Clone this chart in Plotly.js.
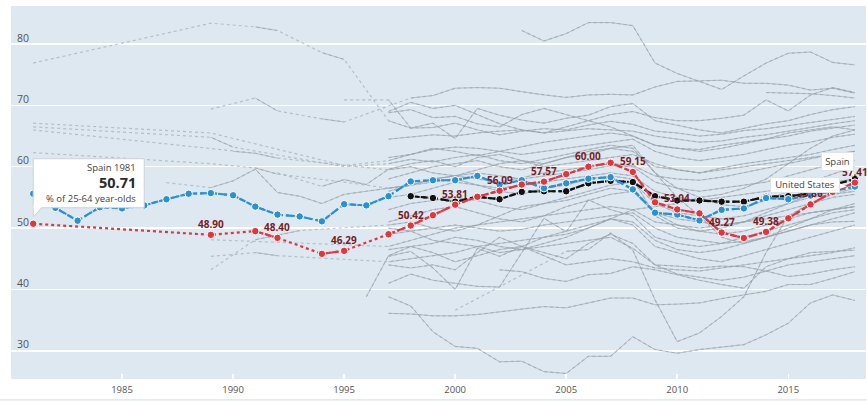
<!DOCTYPE html>
<html><head><meta charset="utf-8">
<script src="https://cdn.plot.ly/plotly-3.0.1.min.js"></script>
<style>html,body{margin:0;padding:0;background:#fff}#chart{width:867px;height:401px}</style>
</head><body><div id="chart"></div>
<script>
const _ = null;
const YEARS = [1981,1982,1983,1984,1985,1986,1987,1988,1989,1990,
  1991,1992,1993,1994,1995,1996,1997,1998,1999,2000,
  2001,2002,2003,2004,2005,2006,2007,2008,2009,2010,
  2011,2012,2013,2014,2015,2016,2017,2018];

// Highlighted series (% of 25-64 year-olds)
const spain = [50.71,_,_,_,_,_,_,_,48.90,_,
  49.50,48.40,_,45.80,46.29,_,49.00,50.42,52.10,53.81,
  55.10,56.09,57.10,57.57,58.80,60.00,60.65,59.15,54.20,53.04,
  52.40,49.27,48.38,49.38,51.60,53.86,55.90,57.41];
const unitedStates = [55.6,53.3,51.2,53.4,53.2,53.7,54.7,55.6,55.7,55.35,
  53.5,52.2,51.9,51.1,53.9,53.7,55.2,57.6,57.8,57.8,
  58.5,57.1,57.8,56.5,57.3,58.05,58.3,56.3,52.5,52.2,
  51.25,52.97,53.2,54.9,54.7,55.3,56.0,56.76];
const oecdAverage = [_,_,_,_,_,_,_,_,_,_,
  _,_,_,_,_,_,_,55.2,54.9,54.3,
  55.1,54.7,55.9,56.0,56.0,57.3,57.7,57.5,55.2,54.5,
  54.5,54.3,54.3,55.1,55.2,55.6,57.0,58.0];
const spainLabelYears = [1989,1992,1995,1998,2000,2002,2004,2006,2008,2010,2012,2014,2016,2018];

// Other countries (grey)
const g01 = [76.9,_,_,_,_,_,_,_,83.4,_, 82.8,82.2,_,78.6,77.5,_,67.5,66.3,66.4,67.1, 66.0,65.2,65.8,66.2,66.0,66.8,67.4,66.9,65.8,65.5, 65.0,65.3,65.9,66.2,66.7,67.2,67.8,68.2];
const g02 = [_,_,_,_,_,_,_,_,_,_, _,_,_,_,_,_,_,_,_,_, _,_,82.2,80.5,81.7,83.5,83.5,83.0,76.9,75.2, 73.9,72.6,74.8,76.9,78.5,78.7,77.0,76.6];
const g03 = [_,_,_,_,_,_,_,_,69.4,_, 71.2,69.1,_,67.8,67.3,_,_,71.2,71.6,72.8, 72.9,72.8,72.2,71.7,71.3,71.7,71.8,71.7,73.0,73.9, 74.0,74.1,73.6,73.6,73.3,72.5,72.8,72.0];
const g04 = [_,_,_,_,_,_,_,_,_,_, _,_,_,_,70.9,_,70.9,66.3,67.1,64.6, 69.5,68.4,67.6,67.1,67.9,68.4,69.8,70.3,67.5,66.8, 66.0,65.5,66.3,67.0,67.5,68.5,69.3,69.8];
const g05 = [67.1,_,_,_,_,_,_,_,65.5,_, _,_,_,_,60.2,_,61.0,62.0,63.0,62.5, 61.8,62.5,63.2,64.0,64.5,65.0,65.5,65.0,63.5,63.0, 62.8,63.5,64.0,64.5,65.0,65.8,66.3,66.8];
const g06 = [66.5,_,_,_,_,_,_,_,64.8,63.2, _,_,_,_,60.0,_,60.5,61.2,60.8,61.5, 62.0,61.0,60.5,61.2,62.0,62.8,63.5,63.0,59.0,56.5, 55.0,53.8,53.5,54.5,56.0,57.5,58.8,60.0];
const g07 = [66.0,_,_,_,_,_,_,_,_,62.5, 62.2,61.4,_,_,_,_,59.5,60.0,59.0,58.5, 59.5,60.5,61.0,60.5,61.5,62.0,63.0,62.5,60.0,59.5, 59.0,59.8,60.5,61.0,61.5,62.0,62.8,63.5];
const g08 = [62.3,_,_,_,_,_,_,_,60.5,_, 59.8,58.8,_,_,57.5,_,56.5,57.0,58.0,58.5, 58.0,57.5,58.2,59.0,59.5,60.0,60.5,60.2,58.5,58.0, 57.8,58.3,59.0,59.8,60.5,61.3,62.0,62.5];
const g09 = [_,_,_,_,_,_,_,_,48.1,_, _,_,47.6,_,_,_,47.0,48.0,49.0,50.0, 50.5,51.0,51.5,52.0,52.5,53.0,53.5,53.0,51.0,50.5, 50.0,50.5,51.0,51.5,52.0,52.5,53.0,53.5];
const g10 = [_,_,_,_,_,_,_,_,43.2,_, 48.1,48.8,49.6,_,_,_,50.5,51.0,50.0,49.5, 50.5,52.0,53.5,54.0,54.5,55.5,56.5,56.0,52.5,51.5, 51.0,50.5,51.0,52.0,53.0,54.0,55.0,55.5];
const g11 = [_,_,_,_,_,_,_,_,45.4,_, 46.0,45.5,_,_,_,_,44.5,45.0,45.5,46.0, 47.0,47.5,48.0,48.5,49.5,50.5,51.5,51.0,48.0,46.5, 46.0,46.5,47.5,48.5,49.5,50.5,51.5,52.5];
const g12 = [_,_,_,_,_,_,57.4,_,56.6,57.7, 59.6,55.8,55.2,54.0,55.5,56.0,56.5,57.0,57.5,58.0, 57.0,56.5,57.0,57.5,58.0,58.5,59.0,58.5,56.0,55.0, 54.5,55.0,55.5,56.0,56.5,57.0,57.5,58.0];
const g13 = [_,_,_,_,_,_,_,_,_,_, _,59.0,_,56.8,57.9,57.1,59.6,60.5,61.0,60.0, 61.5,62.0,61.0,60.0,60.5,61.0,61.5,62.0,60.5,59.5, 59.0,59.5,60.0,60.5,61.0,61.5,62.0,62.5];
const g14 = [_,_,_,_,_,_,_,_,_,_, _,_,_,_,_,38.8,45.5,47.0,46.0,44.5, 45.5,46.5,47.0,48.5,49.0,50.0,51.5,50.5,47.0,46.0, 45.0,44.5,45.5,46.5,47.5,48.5,49.5,50.5];
const m01 = [_,_,_,_,_,_,_,_,_,_, _,_,_,_,_,_,64.5,64.8,65.2,65.0, 65.5,65.8,66.0,65.5,65.8,66.2,66.0,65.8,65.0,64.5, 64.0,64.2,64.8,65.2,65.8,66.5,67.0,67.5];
const m02 = [_,_,_,_,_,_,_,_,_,_, _,_,_,_,_,_,61.5,62.0,62.8,63.2, 63.0,62.5,62.0,62.5,63.0,63.5,64.0,64.5,62.5,61.5, 61.0,61.5,62.0,62.8,63.5,64.0,64.8,65.3];
const m03 = [_,_,_,_,_,_,_,_,_,_, _,_,_,_,_,_,58.0,59.0,60.0,60.5, 61.0,60.0,59.5,60.5,61.5,62.5,63.0,63.5,59.0,55.0, 52.0,48.5,47.5,48.5,50.0,51.5,53.0,54.0];
const m04 = [_,_,_,_,_,_,_,_,_,_, _,_,_,_,_,_,56.0,57.0,58.0,58.5, 59.0,58.5,58.0,58.5,59.0,59.5,60.2,60.0,57.5,56.5, 56.0,56.5,57.0,57.5,58.5,59.5,60.5,61.0];
const m05 = [_,_,_,_,_,_,_,_,_,_, _,_,_,_,_,_,55.0,55.5,56.5,57.5, 57.0,56.0,55.5,56.5,57.0,58.0,58.5,58.0,52.0,50.0, 49.5,50.0,51.0,52.5,54.0,55.5,57.0,58.0];
const m06 = [_,_,_,_,_,_,_,_,_,_, _,_,_,_,_,_,53.0,54.0,54.5,55.0, 54.5,53.5,53.0,54.0,55.0,56.0,57.0,57.5,54.0,52.5, 52.0,51.5,52.0,53.0,54.0,55.0,55.5,56.0];
const m07 = [_,_,_,_,_,_,_,_,_,_, _,_,_,_,_,_,51.0,52.0,53.0,53.5, 52.5,51.5,51.0,52.0,53.5,54.5,55.5,56.0,52.5,50.5, 49.5,49.0,49.5,50.5,51.5,52.5,53.0,53.5];
const m08 = [_,_,_,_,_,_,_,_,_,_, _,_,_,_,_,_,49.0,49.5,50.0,50.5, 50.0,49.5,49.8,50.5,51.0,51.5,52.0,52.5,50.0,48.5, 48.0,47.5,47.8,48.5,49.5,50.5,51.0,51.1];
const m09 = [_,_,_,_,_,_,_,_,_,_, _,_,_,_,_,_,46.5,47.0,47.5,48.5, 48.0,47.0,46.5,47.5,48.5,50.0,51.5,53.0,53.5,54.0, 55.0,55.5,56.5,58.0,60.5,63.0,65.0,66.0];
const m10 = [_,_,_,_,_,_,_,_,_,_, _,_,_,_,_,_,44.0,43.5,44.0,43.2, 46.0,48.5,47.0,45.5,44.0,44.5,45.0,44.5,43.5,43.2, 43.0,43.5,44.0,44.5,45.0,45.5,46.0,46.8];
const h01 = [_,_,_,_,_,_,_,_,_,_, _,_,_,_,_,_,69.0,70.5,69.5,70.0, 68.5,67.0,66.0,65.5,66.5,67.5,68.5,69.0,68.0,67.5, 67.5,67.9,68.4,70.9,69.1,71.7,72.9,72.1];
const h02 = [_,_,_,_,_,_,_,_,_,_, _,_,_,_,_,_,_,_,_,_, _,_,_,_,_,_,_,_,_,_, _,_,_,72.1,72.0,71.9,71.6,71.2];
const h03 = [_,_,_,_,_,_,_,_,_,_, _,_,_,_,_,_,68.8,69.3,68.0,68.2, 67.0,66.5,68.5,69.5,68.5,67.5,66.5,65.0,63.5,63.0, 62.5,63.0,63.8,64.5,65.5,66.0,66.5,66.0];
const low1 = [_,_,_,_,_,_,_,_,_,_, _,_,_,_,_,_,38.8,37.3,33.1,30.7, 30.4,28.2,28.3,26.6,26.3,29.1,29.1,32.3,30.2,29.6, 30.2,30.6,31.0,32.6,34.5,37.8,39.1,38.2];
const low2 = [_,_,_,_,_,_,_,_,_,_, _,_,_,_,_,_,36.1,36.0,35.7,35.7, 35.9,36.4,36.8,37.2,37.0,37.8,38.6,38.6,37.5,37.6, 37.8,38.5,39.1,39.7,40.8,40.8,41.8,42.9];
const low3 = [_,_,_,_,_,_,_,_,_,_, _,_,_,_,_,_,_,_,_,36.6, _,_,_,_,46.2,46.5,49.2,46.4,38.3,31.5, 32.9,35.6,38.8,46.0,52.0,54.0,55.5,56.5];
const z01 = [_,_,_,_,_,_,_,_,_,_, _,_,_,_,_,_,45.4,46.2,43.5,40.0, 46.7,45.4,47.0,46.0,45.0,47.5,49.0,47.5,44.0,42.5, 42.0,41.5,42.0,43.0,44.0,44.5,45.0,45.5];
const z02 = [_,_,_,_,_,_,_,_,_,_, _,_,_,_,_,_,_,_,_,_, _,43.2,42.9,41.8,41.3,42.4,42.6,43.7,43.2,42.4, 41.5,40.8,40.2,43.7,45.0,46.0,46.2,46.4];
const z03 = [_,_,_,_,_,_,_,_,_,_, _,_,_,_,_,_,50.0,49.5,48.0,47.5, 47.0,46.0,46.5,47.0,47.5,48.0,48.5,46.7,44.0,43.8, 43.5,43.8,43.7,43.0,42.1,42.5,43.2,43.7];
const z04 = [_,_,_,_,_,_,_,_,_,_, _,_,_,_,_,_,41.0,42.5,41.5,41.0, 40.5,40.4,46.0,51.6,49.4,54.6,53.0,52.0,48.5,47.5, 47.0,47.5,48.5,49.5,50.5,51.5,52.5,53.0];

const greySeries = [g01,g02,g03,g04,g05,g06,g07,g08,g09,g10,g11,g12,g13,g14,
  m01,m02,m03,m04,m05,m06,m07,m08,m09,m10,h01,h02,h03,low1,low2,low3,z01,z02,z03,z04];

const Y_TICKS = [30,40,50,60,70,80];
const X_TICKS = [1985,1990,1995,2000,2005,2010,2015];

const GREY = 'rgba(150,160,169,0.58)';
const RED = '#e2363f';
const BLUE = '#2a92d3';
const BLACK = '#111111';

const traces = [];
function present(vals){
  const xs=[], ys=[];
  vals.forEach((v,i)=>{ if(v!==null){ xs.push(YEARS[i]); ys.push(v);} });
  return {xs, ys};
}
function addSeries(vals, color, w, solidDash, withMarkers, dotW){
  const p = present(vals);
  traces.push({x:p.xs, y:p.ys, type:'scatter', mode:'lines', hoverinfo:'skip',
    line:{color:color, width:dotW, dash:'dot'}});
  const t = {x:YEARS, y:vals, type:'scatter', mode: withMarkers?'lines+markers':'lines',
    connectgaps:false, hoverinfo:'skip',
    line:{color:color, width:w, dash:solidDash}};
  if (withMarkers) t.marker = {size:7.5, color:color, line:{color:'#ffffff', width:1}};
  traces.push(t);
}
greySeries.forEach(s=>addSeries(s, GREY, 1, 'solid', false, 1.2));
addSeries(oecdAverage, BLACK, 2.2, '7px,3px', true, 2);
addSeries(unitedStates, BLUE, 2.2, '7px,3px', true, 2);
addSeries(spain, RED, 2.2, '7px,3px', true, 2.2);

const annotations = [];
spainLabelYears.forEach(yr=>{
  const v = spain[YEARS.indexOf(yr)];
  annotations.push({x:yr, y:v, xref:'x', yref:'y', text:'<b>'+v.toFixed(2)+'</b>', showarrow:false,
    yshift:11, borderpad:0, font:{family:'Open Sans, sans-serif', size:10, color:'#7a1a1f'}});
});

const tipYear = 1981, tipVal = spain[0];
const BORDER = '#cdd2d6';
const shapes = [
  {type:'rect', xref:'x', yref:'y', xsizemode:'pixel', ysizemode:'pixel', xanchor:tipYear, yanchor:tipVal,
   x0:0, x1:111, y0:16, y1:65, fillcolor:'#ffffff', line:{color:BORDER, width:1}, layer:'above'},
  {type:'path', xref:'x', yref:'y', xsizemode:'pixel', ysizemode:'pixel', xanchor:tipYear, yanchor:tipVal,
   path:'M0,7 L0,17.5 L9,17.5 Z', fillcolor:'#ffffff', line:{width:0}, layer:'above'},
  {type:'path', xref:'x', yref:'y', xsizemode:'pixel', ysizemode:'pixel', xanchor:tipYear, yanchor:tipVal,
   path:'M0,16 L0,7 L9,16', line:{color:BORDER, width:1}, layer:'above'},
  {type:'path', xref:'x', yref:'y', xsizemode:'pixel', ysizemode:'pixel', xanchor:2018, yanchor:spain[37],
   path:'M-10,14 L-2.5,14 L-1,6 Z', fillcolor:'#ffffff', line:{width:0}, layer:'above'},
  {type:'path', xref:'x', yref:'y', xsizemode:'pixel', ysizemode:'pixel', xanchor:2018, yanchor:unitedStates[37],
   path:'M-17,4 L-17,-3 L-8,0 Z', fillcolor:'#ffffff', line:{width:0}, layer:'above'},
  {type:'line', xref:'paper', yref:'paper', x0:-0.013, x1:1.002, y0:-0.056, y1:-0.056,
   line:{color:'#c6ecf7', width:1.2}}
];

const tipFont = {family:'Open Sans, sans-serif', color:'#444'};
annotations.push(
  {x:tipYear, y:tipVal, xref:'x', yref:'y', text:'Spain 1981', showarrow:false, xanchor:'right', yanchor:'middle',
   xshift:104, yshift:56.5, borderpad:0, font:Object.assign({size:9.5}, tipFont)},
  {x:tipYear, y:tipVal, xref:'x', yref:'y', text:'<b>50.71</b>', showarrow:false, xanchor:'right', yanchor:'middle',
   xshift:104, yshift:41, borderpad:0, font:{family:'Open Sans, sans-serif', size:14.5, color:'#2b2b2b'}},
  {x:tipYear, y:tipVal, xref:'x', yref:'y', text:'% of 25-64 year-olds', showarrow:false, xanchor:'right', yanchor:'middle',
   xshift:104, yshift:25, borderpad:0, font:Object.assign({size:9.5}, tipFont)},
  {x:2018, y:spain[37], xref:'x', yref:'y', text:'Spain', showarrow:false, xanchor:'center', yanchor:'middle',
   xshift:-17.5, yshift:21.3, width:29, height:15, borderpad:1, bgcolor:'#ffffff', bordercolor:'#dfe3e6', borderwidth:1,
   font:Object.assign({size:9.5}, tipFont)},
  {x:2018, y:unitedStates[37], xref:'x', yref:'y', text:'United States', showarrow:false, xanchor:'center', yanchor:'middle',
   xshift:-49.5, yshift:1.3, width:66, height:11.5, borderpad:1, bgcolor:'#ffffff', bordercolor:'#dfe3e6', borderwidth:1,
   font:Object.assign({size:9.5}, tipFont)}
);

const layout = {
  width:867, height:401,
  margin:{l:11, r:1, t:6, b:22},
  paper_bgcolor:'#ffffff', plot_bgcolor:'#dde8f1',
  showlegend:false,
  xaxis:{range:[1980,2018.5], tickvals:X_TICKS, ticktext:X_TICKS.map(String),
    ticks:'inside', ticklen:5, tickwidth:1.5, tickcolor:'#ffffff', showgrid:false, zeroline:false,
    showline:false, ticklabelstandoff:3, tickfont:{family:'Open Sans, sans-serif', size:9.5, color:'#555'}},
  yaxis:{range:[25.4,86.2], tickvals:Y_TICKS, ticktext:Y_TICKS.map(String),
    ticklabelposition:'inside', ticklabelshift:-6, ticklabelstandoff:3,
    showgrid:true, gridcolor:'#ffffff', gridwidth:1.5, zeroline:false, showline:false, ticks:'',
    tickfont:{family:'Open Sans, sans-serif', size:10.5, color:'#555'}},
  annotations:annotations, shapes:shapes
};
Plotly.newPlot('chart', traces, layout, {staticPlot:true, displayModeBar:false});
</script></body></html>
